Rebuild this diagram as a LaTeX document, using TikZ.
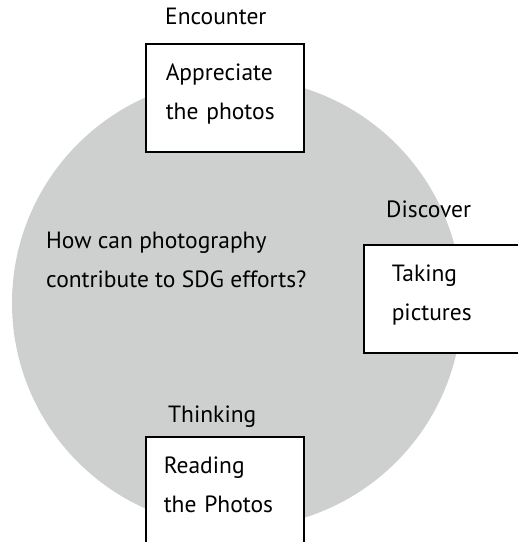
\documentclass[tikz,border=0pt]{standalone}
\usepackage{fontspec}
\setmainfont{PT Sans}
\definecolor{discgray}{RGB}{206,207,207}
\tikzset{
  stagebox/.style={draw, line width=1.5pt, fill=white, anchor=north west,
    align=left, minimum width=158pt, text width=#1, inner xsep=0pt,
    inner ysep=0pt, text height=37pt, text depth=71pt},
  stagelabel/.style={anchor=base west, inner sep=0pt},
}
\begin{document}
\begin{tikzpicture}[x=1pt,y=-1pt,font=\fontsize{23.5}{39}\selectfont]
\path[clip, use as bounding box] (0,0) rectangle (518,542);
% grey disc behind everything
\node[circle, fill=discgray, minimum size=450pt, inner sep=0pt] (disc) at (237,303) {};
\node[stagelabel, align=left] (question) at (46,287)
{How can photography\\contribute to SDG efforts?};
% the three stages
\node[stagebox=118pt] (appreciate) at (145,43) {Appreciate\\the photos};
\node[stagebox=102pt] (taking) at (363,244) {Taking\\pictures};
\node[stagebox=122pt] (reading) at (145,436) {Reading\\the Photos};
\node[stagelabel] (encounter) at (165,24) {Encounter};
\node[stagelabel] (discover) at (386,217) {Discover};
\node[stagelabel] (thinking) at (168,422) {Thinking};
\end{tikzpicture}
\end{document}
